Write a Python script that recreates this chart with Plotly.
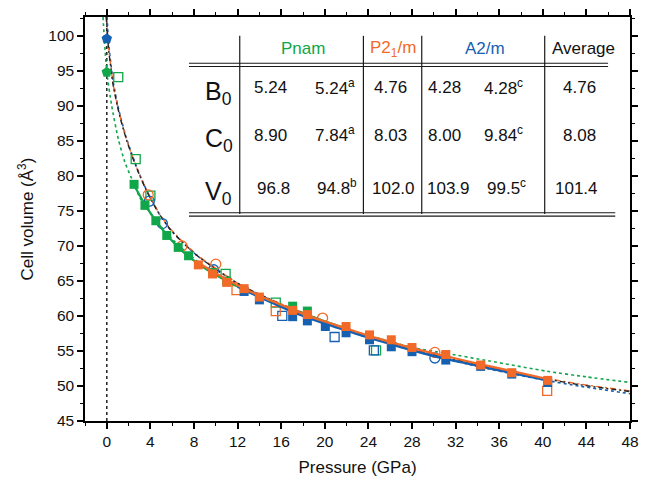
import plotly.graph_objects as go

# ---------------- data ----------------
GREEN = '#10A64A'
ORANGE = '#F26A28'
BLUE = '#1660B2'
BLACK = '#222222'

# Pnam (green)
pnam_fill_P = [2.5, 3.5, 4.5, 5.5, 6.55, 7.5, 9.7, 11.0, 17.05, 18.4]
pnam_fill_V = [78.8, 75.8, 73.6, 71.5, 69.8, 68.6, 66.2, 65.0, 61.4, 60.7]
pnam_open_P = [1.05, 2.65, 4.0, 10.9, 15.5, 24.7]
pnam_open_V = [94.1, 82.4, 77.2, 66.0, 61.9, 55.1]
pnam_zero_P = [0.0]
pnam_zero_V = [94.8]
pnam_line_P = [2.5, 3.5, 4.5, 5.5, 6.5, 7.5, 9.0, 11.0, 13.0, 15.0, 17.0, 19.0, 21.0, 22.2]
pnam_line_V = [78.7, 75.9, 73.6, 71.6, 69.9, 68.5, 66.8, 65.0, 63.5, 62.1, 60.9, 59.8, 58.7, 58.1]
pnam_fit_P = [-0.35, -0.2, 0.0, 0.45, 1.05, 1.65, 2.26, 3.0, 4.5, 6.5, 9.0, 12.0, 15.0, 18.0, 22.0, 25.0, 28.3, 31.0, 35.0, 40.4, 44.0, 48.0]
pnam_fit_V = [102.7, 99.0, 94.8, 90.0, 85.3, 82.0, 79.7, 77.0, 73.6, 70.2, 67.0, 64.3, 62.0, 60.1, 58.1, 56.8, 55.4, 54.7, 53.6, 52.1, 51.3, 50.5]

# P2_1/m (orange)
p21_fill_P = [8.4, 9.7, 11.0, 12.6, 14.0, 17.05, 18.4, 21.95, 24.1, 26.1, 28.0, 31.1, 34.3, 37.15, 40.45]
p21_fill_V = [67.3, 66.0, 64.8, 63.9, 62.7, 60.8, 60.2, 58.5, 57.3, 56.6, 55.5, 54.5, 53.0, 51.9, 50.8]
p21_osq_P = [11.9, 15.5, 40.4]
p21_osq_V = [63.7, 60.7, 49.3]
p21_ocirc_P = [3.8, 6.9, 10.0, 19.8, 30.1]
p21_ocirc_V = [77.3, 70.0, 67.4, 59.7, 54.8]
p21_line_P = [8.4, 10.0, 12.0, 14.0, 16.0, 18.0, 20.0, 22.0, 24.0, 26.0, 28.0, 31.0, 34.0, 37.0, 40.4]
p21_line_V = [67.6, 66.1, 64.4, 62.9, 61.6, 60.3, 59.2, 58.2, 57.2, 56.3, 55.4, 54.3, 53.2, 52.2, 51.0]
p21_fit_P = [-0.07, 0.0, 0.15, 0.3, 0.6, 1.0, 1.35, 1.8, 2.26, 2.8, 3.46, 4.1, 4.8, 5.8, 6.9, 8.3, 9.9, 12.3, 15.9, 18.95, 21.96, 24.96, 27.98, 30.98, 34.3, 37.3, 40.3, 43.3, 48.0]
p21_fit_V = [102.7, 102.0, 98.6, 96.5, 93.0, 89.9, 87.7, 85.3, 83.2, 81.0, 78.6, 76.6, 74.7, 72.5, 70.7, 68.7, 66.9, 64.4, 61.8, 59.9, 58.1, 56.7, 55.4, 54.2, 53.0, 52.0, 51.1, 50.3, 49.3]

# A2/m (blue)
a2m_fill_P = [12.6, 14.0, 17.05, 18.4, 20.05, 21.95, 24.1, 26.1, 28.0, 31.1, 34.3, 37.15, 40.45]
a2m_fill_V = [63.5, 62.3, 59.9, 59.3, 58.5, 57.6, 56.6, 55.6, 54.9, 53.7, 52.8, 51.7, 50.5]
a2m_osq_P = [16.1, 20.9, 24.5]
a2m_osq_V = [60.0, 57.0, 55.1]
a2m_ocirc_P = [3.9, 5.1, 9.8, 30.1]
a2m_ocirc_V = [76.4, 73.2, 66.6, 54.0]
a2m_zero_P = [0.0]
a2m_zero_V = [99.6]
a2m_line_P = [12.0, 14.0, 16.0, 18.0, 20.0, 22.0, 24.0, 26.0, 28.0, 31.0, 34.0, 37.0, 40.4]
a2m_line_V = [64.2, 62.7, 61.3, 60.0, 58.9, 57.9, 56.9, 56.0, 55.1, 53.9, 52.9, 51.9, 50.8]
a2m_fit_P = [0.02, 0.15, 0.3, 0.6, 1.0, 1.35, 1.8, 2.26, 2.8, 3.46, 4.1, 4.8, 5.8, 6.9, 8.3, 9.9, 12.3, 15.9, 18.95, 21.96, 24.96, 27.98, 30.98, 34.3, 37.3, 40.3, 43.3, 48.0]
a2m_fit_V = [102.7, 99.3, 97.0, 93.3, 90.1, 87.9, 85.4, 83.3, 81.0, 78.6, 76.6, 74.6, 72.4, 70.6, 68.6, 66.8, 64.3, 61.7, 59.7, 57.9, 56.5, 55.1, 53.9, 52.7, 51.7, 50.8, 50.0, 48.9]

# Average (black)
avg_fit_P = [-0.05, 0.0, 0.15, 0.3, 0.6, 1.0, 1.35, 1.8, 2.26, 2.8, 3.46, 4.1, 4.8, 5.8, 6.9, 8.3, 9.9, 12.3, 15.9, 18.95, 21.96, 24.96, 27.98, 30.98, 34.3, 37.3, 40.3, 43.3, 48.0]
avg_fit_V = [102.7, 101.4, 98.3, 96.3, 92.8, 89.8, 87.6, 85.2, 83.1, 80.9, 78.5, 76.5, 74.6, 72.4, 70.6, 68.6, 66.8, 64.4, 61.7, 59.8, 58.0, 56.6, 55.3, 54.1, 52.9, 51.9, 51.0, 50.2, 49.2]

# Table
table_headers = ['Pnam', 'P2<sub>1</sub>/m', 'A2/m', 'Average']
table_rows = ['B<sub>0</sub>', 'C<sub>0</sub>', 'V<sub>0</sub>']
pnam_col1 = ['5.24', '8.90', '96.8']
pnam_col2 = ['5.24<sup>a</sup>', '7.84<sup>a</sup>', '94.8<sup>b</sup>']
p21_col = ['4.76', '8.03', '102.0']
a2m_col1 = ['4.28', '8.00', '103.9']
a2m_col2 = ['4.28<sup>c</sup>', '9.84<sup>c</sup>', '99.5<sup>c</sup>']
avg_col = ['4.76', '8.08', '101.4']

x_ticks = list(range(0, 49, 4))
y_ticks = list(range(45, 101, 5))

# ---------------- figure ----------------
W, H = 648, 483
ML, MR, MT, MB = 85, 9, 14, 61
FONT = 'Liberation Sans, Arial, sans-serif'

fig = go.Figure()

def line(P, V, color, width, dash='solid'):
    fig.add_trace(go.Scatter(x=P, y=V, mode='lines', line=dict(color=color, width=width, dash=dash, shape='spline', smoothing=0.6), hoverinfo='skip'))

def pts(P, V, color, symbol, size, filled=True):
    if filled:
        mk = dict(symbol=symbol, size=size, color=color, line=dict(width=0))
    else:
        mk = dict(symbol=symbol, size=size, color='rgba(255,255,255,0)', line=dict(width=1.3, color=color))
    fig.add_trace(go.Scatter(x=P, y=V, mode='markers', marker=mk))

# fits
line(pnam_fit_P, pnam_fit_V, GREEN, 1.6, 'dot')
line(a2m_fit_P, a2m_fit_V, BLUE, 1.6, 'dot')
line(p21_fit_P, p21_fit_V, ORANGE, 1.4, '6px,3px,2px,3px')
line(avg_fit_P, avg_fit_V, BLACK, 1.4, '5px,3px,2px,3px')

# open markers
pts(pnam_open_P, pnam_open_V, GREEN, 'square', 9, False)
pts(a2m_osq_P, a2m_osq_V, BLUE, 'square', 9, False)
pts(p21_osq_P, p21_osq_V, ORANGE, 'square', 9, False)
pts(a2m_ocirc_P, a2m_ocirc_V, BLUE, 'circle', 10, False)
pts(p21_ocirc_P, p21_ocirc_V, ORANGE, 'circle', 10, False)

# solid lines + filled markers
line(pnam_line_P, pnam_line_V, GREEN, 2.2)
pts(pnam_fill_P, pnam_fill_V, GREEN, 'square', 9)
line(a2m_line_P, a2m_line_V, BLUE, 2.4)
pts(a2m_fill_P, a2m_fill_V, BLUE, 'square', 9)
line(p21_line_P, p21_line_V, ORANGE, 2.2)
pts(p21_fill_P, p21_fill_V, ORANGE, 'square', 9)

pts(pnam_zero_P, pnam_zero_V, GREEN, 'pentagon', 11)
pts(a2m_zero_P, a2m_zero_V, BLUE, 'pentagon', 11)

# vertical dotted line at P = 0
shapes = [dict(type='line', xref='x', yref='paper', x0=0, x1=0, y0=0, y1=1,
               line=dict(color=BLACK, width=1.5, dash='dot'), layer='below')]

PW = W - ML - MR
PH = H - MT - MB
def fx(x):
    return (x - ML) / PW
def fy(y):
    return (H - MB - y) / PH

TL = dict(color='#1a1a1a', width=1.2)
for xv in [242.3, 368, 427.3, 552.3]:
    shapes.append(dict(type='line', xref='paper', yref='paper', x0=fx(xv), x1=fx(xv), y0=fy(33), y1=fy(213), line=TL))
for yv in [60.7, 64.0]:
    shapes.append(dict(type='line', xref='paper', yref='paper', x0=fx(190.7), x1=fx(616.7), y0=fy(yv), y1=fy(yv), line=TL))
for yv in [211.7, 215.0]:
    shapes.append(dict(type='line', xref='paper', yref='paper', x0=fx(190.7), x1=fx(624), y0=fy(yv), y1=fy(yv), line=TL))

annotations = []
def ann(text, x, y, size=17, color='#111111', xanchor='center'):
    annotations.append(dict(text=text, xref='paper', yref='paper', x=fx(x), y=fy(y), xanchor=xanchor, yanchor='middle',
                            showarrow=False, font=dict(family=FONT, size=size, color=color)))

head_x = [306.7, 397.7, 491.7, 591.7]
head_c = [GREEN, ORANGE, BLUE, '#111111']
for t, x, c in zip(table_headers, head_x, head_c):
    ann(t, x, 46, 17, c)

row_y = [85.7, 133.3, 186.7]
for t, y in zip(table_rows, row_y):
    ann(t, 205, y + 5, 25, '#111111', 'left')

for i, y in enumerate(row_y):
    ann(pnam_col1[i], 274 if i < 2 else 276.7, y)
    ann(pnam_col2[i], 316.7 if i < 2 else 318.3, y - 1, 17, '#111111', 'left')
    ann(p21_col[i], 395.7 if i < 2 else 399, y)
    ann(a2m_col1[i], 450 if i < 2 else 454, y)
    ann(a2m_col2[i], 488.5 if i < 2 else 491.7, y - 1, 17, '#111111', 'left')
    ann(avg_col[i], 587.7 if i < 2 else 585, y)

axis_common = dict(showline=True, linecolor='black', linewidth=1.5, mirror='allticks',
                   ticks='outside', ticklen=6, tickwidth=1.5, tickcolor='black',
                   showgrid=False, zeroline=False,
                   tickfont=dict(family=FONT, size=15.5, color='#111111'))

fig.update_layout(
    width=W, height=H,
    margin=dict(l=ML, r=MR, t=MT, b=MB),
    paper_bgcolor='white', plot_bgcolor='white',
    showlegend=False,
    shapes=shapes, annotations=annotations,
    xaxis=dict(range=[-2, 48], tickvals=x_ticks, ticktext=[str(v) for v in x_ticks],
               minor=dict(dtick=2, tick0=0, ticklen=3, tickwidth=1.2, tickcolor='black', ticks='outside'),
               title=dict(text='Pressure (GPa)', font=dict(family=FONT, size=17, color='#111111'), standoff=12),
               **axis_common),
    yaxis=dict(range=[45, 102.7], tickvals=y_ticks, ticktext=[str(v) for v in y_ticks],
               minor=dict(dtick=2.5, tick0=45, ticklen=3, tickwidth=1.2, tickcolor='black', ticks='outside'),
               title=dict(text='Cell volume (Å<sup>3</sup>)', font=dict(family=FONT, size=17, color='#111111'), standoff=10),
               **axis_common),
)

fig.write_html('out.html')
